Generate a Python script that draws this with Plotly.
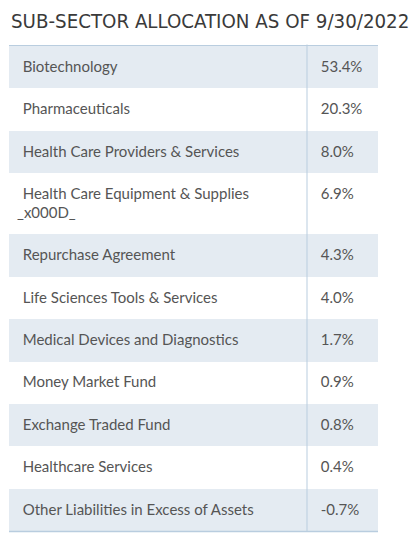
import plotly.graph_objects as go

categories = [
    "Biotechnology",
    "Pharmaceuticals",
    "Health Care Providers & Services",
    "Health Care Equipment & Supplies<br>_x000D_",
    "Repurchase Agreement",
    "Life Sciences Tools & Services",
    "Medical Devices and Diagnostics",
    "Money Market Fund",
    "Exchange Traded Fund",
    "Healthcare Services",
    "Other Liabilities in Excess of Assets",
]
weights = [53.4, 20.3, 8.0, 6.9, 4.3, 4.0, 1.7, 0.9, 0.8, 0.4, -0.7]
title_text = "SUB-SECTOR ALLOCATION AS OF 9/30/2022"

W, H = 418, 536
SHADE = "#e4ebf2"
LINE = "#b9cddf"
TEXT = "#555555"
NB = "\u00a0"

# invisible spacer (non-breaking spaces) used only to pad text inside cells
LEAD = NB + "<sup><sup>" + NB + "</sup></sup>"
TALL_TAIL = '<span style="font-size:36px">' + NB + "</span>"


def cell_text(label):
    if "<br>" in label:
        return LEAD + label + TALL_TAIL
    return LEAD + label


cat_cells = [cell_text(c) for c in categories]
val_cells = [LEAD + f"{v:.1f}%" for v in weights]

fills = [SHADE if i % 2 == 0 else "#ffffff" for i in range(len(categories))]

x0, x1, xs = 9, 378, 307
ytop, ybot, yline = 44.5, 536, 531.5

fig = go.Figure(go.Table(
    domain=dict(x=[x0 / W, x1 / W], y=[1 - ybot / H, 1 - ytop / H]),
    columnwidth=[xs - x0, x1 - xs],
    header=dict(values=["", ""], height=1.5, fill_color=LINE,
                line=dict(width=0, color=LINE)),
    cells=dict(
        values=[cat_cells, val_cells],
        fill_color=[fills, fills],
        line=dict(width=0, color="rgba(0,0,0,0)"),
        font=dict(family="Lato", size=15, color=TEXT),
        align="left",
        height=42.4,
    ),
))

fig.add_shape(type="line", xref="paper", yref="paper",
              x0=xs / W, x1=xs / W, y0=1 - ytop / H, y1=1 - yline / H,
              line=dict(color=LINE, width=1))
fig.add_shape(type="line", xref="paper", yref="paper",
              x0=x0 / W, x1=x1 / W, y0=1 - yline / H, y1=1 - yline / H,
              line=dict(color=LINE, width=1.5))

fig.update_layout(
    width=W, height=H,
    margin=dict(l=0, r=0, t=0, b=0),
    paper_bgcolor="white",
    annotations=[dict(
        text=title_text,
        xref="paper", yref="paper", x=9 / W, y=1 - 21 / H,
        xanchor="left", yanchor="middle", showarrow=False,
        font=dict(family="DejaVu Sans Condensed", size=20.3, color="#3a3a3a"),
    )],
)

fig.write_html("out.html", config={"displayModeBar": False},
               post_script="document.body.style.margin='0';")
